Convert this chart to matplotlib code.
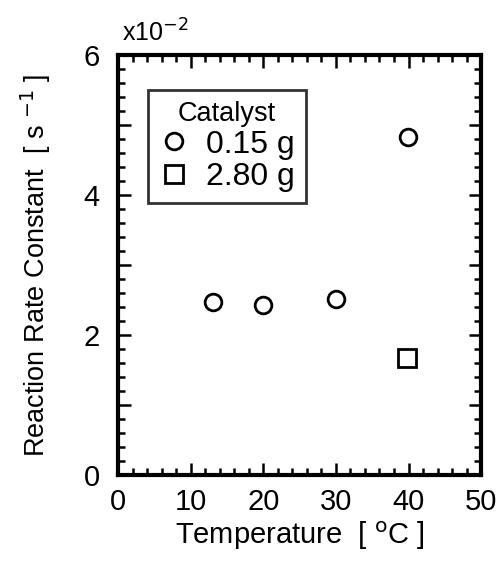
import matplotlib.pyplot as plt
from matplotlib.ticker import MultipleLocator, FuncFormatter

plt.rcParams['font.family'] = ['Liberation Sans', 'DejaVu Sans']

# data (rate constant in units of 1e-2 s^-1)
temp_015 = [13.1, 20.0, 30.0, 39.9]
rate_015 = [2.47, 2.43, 2.51, 4.83]
temp_280 = [39.8]
rate_280 = [1.67]

fig = plt.figure(figsize=(4.96, 5.61), dpi=100)
ax = fig.add_axes([0.238, 0.153, 0.732, 0.749])

ax.plot(temp_015, rate_015, 'o', ms=12, mfc='white', mec='black', mew=2,
        label='0.15 g', linestyle='none')
ax.plot(temp_280, rate_280, 's', ms=12.5, mfc='white', mec='black', mew=2,
        label='2.80 g', linestyle='none')

ax.set_xlim(0, 50)
ax.set_ylim(0, 6)

ax.xaxis.set_major_locator(MultipleLocator(10))
ax.xaxis.set_minor_locator(MultipleLocator(2))
ax.yaxis.set_major_locator(MultipleLocator(1))
ax.yaxis.set_minor_locator(MultipleLocator(0.2))
ax.yaxis.set_major_formatter(FuncFormatter(lambda v, p: f'{int(v)}' if int(round(v)) % 2 == 0 else ''))

ax.tick_params(which='both', direction='in', top=True, right=True, width=1.8,
               labelsize=21, color='black')
ax.tick_params(axis='x', pad=9)
ax.tick_params(axis='y', pad=13)
ax.tick_params(which='major', length=9)
ax.tick_params(which='minor', length=5)

for s in ax.spines.values():
    s.set_linewidth(3)

ax.set_xlabel('Temperature  [ $^{\\mathrm{o}}$C ]', fontsize=21, labelpad=3)
ax.set_ylabel('Reaction Rate Constant  [ s $^{-1}$ ]', fontsize=19.5, labelpad=22)

ax.text(0.012, 1.031, 'x10$^{-2}$', transform=ax.transAxes, fontsize=18,
        ha='left', va='baseline')

leg = ax.legend(title='Catalyst', loc='upper left', bbox_to_anchor=(0.083, 0.917),
                fontsize=23, title_fontsize=19.5, frameon=True, fancybox=False,
                handletextpad=0.55, borderpad=0.35, labelspacing=0.08,
                handlelength=0.9, borderaxespad=0)
leg.get_frame().set_edgecolor('black')
leg.get_frame().set_linewidth(2)

fig.savefig('out.png', dpi=100)
